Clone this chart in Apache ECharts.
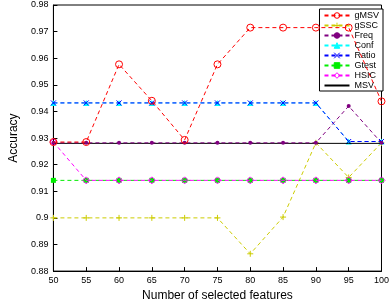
<!DOCTYPE html>
<html>
<head>
<meta charset="utf-8">
<script src="https://cdn.jsdelivr.net/npm/echarts@6/dist/echarts.min.js"></script>
<style>
  html, body { margin: 0; padding: 0; background: #fff; }
  #chart { width: 392px; height: 307px; }
</style>
</head>
<body>
<div id="chart"></div>
<script>
// data
const features = [50, 55, 60, 65, 70, 75, 80, 85, 90, 95, 100];
const gMSV  = [0.9285, 0.9285, 0.9577, 0.9440, 0.9293, 0.9577, 0.9715, 0.9715, 0.9715, 0.9715, 0.9438];
const gSSC  = [0.9000, 0.9000, 0.9000, 0.9000, 0.9000, 0.9000, 0.8865, 0.9003, 0.9282, 0.9152, 0.9282];
const freq  = [0.9282, 0.9282, 0.9282, 0.9282, 0.9282, 0.9282, 0.9282, 0.9282, 0.9282, 0.9420, 0.9282];
const conf  = [0.9432, 0.9432, 0.9432, 0.9432, 0.9432, 0.9432, 0.9432, 0.9432, 0.9432, 0.9287, 0.9287];
const ratio = [0.9432, 0.9432, 0.9432, 0.9432, 0.9432, 0.9432, 0.9432, 0.9432, 0.9432, 0.9287, 0.9287];
const gtest = [0.9141, 0.9141, 0.9141, 0.9141, 0.9141, 0.9141, 0.9141, 0.9141, 0.9141, 0.9141, 0.9141];
const hsic  = [0.9285, 0.9141, 0.9141, 0.9141, 0.9141, 0.9141, 0.9141, 0.9141, 0.9141, 0.9141, 0.9141];
const msv   = [0.9280, 0.9280, 0.9280, 0.9280, 0.9280, 0.9280, 0.9280, 0.9280, 0.9280, 0.9280, 0.9280];
const names = ['gMSV', 'gSSC', 'Freq', 'Conf', 'Ratio', 'Gtest', 'HSIC', 'MSV'];

const plusPath = 'path://M5,0L5,10M0,5L10,5';
const crossPath = 'path://M0,0L10,10M0,10L10,0';

function mkSeries(name, values, color, symbol, opts = {}) {
  // hollow glyphs (o, +, x, diamond): transparent fill, thin coloured stroke
  const itemStyle = opts.stroke
    ? { color: 'rgba(0,0,0,0)', borderColor: color, borderWidth: 1 }
    : { color: color, borderColor: color, borderWidth: 0 };
  return {
    name: name,
    type: 'line',
    data: features.map((f, i) => [f, values[i]]),
    symbol: symbol,
    symbolSize: opts.size || 6,
    lineStyle: { color: color, width: 1, type: opts.solid ? 'solid' : [4, 3] },
    itemStyle: itemStyle,
    emphasis: { disabled: true },
    animation: false,
    z: opts.z || 2
  };
}

const chart = echarts.init(document.getElementById('chart'), null, { renderer: 'canvas' });

chart.setOption({
  animation: false,
  grid: { left: 39, right: 8, top: 5, bottom: 30, show: true, borderColor: '#000', borderWidth: 1 },
  legend: {
    orient: 'vertical',
    right: 9,
    top: 9,
    itemWidth: 25,
    itemHeight: 7,
    itemGap: 1,
    padding: [2, 4, 1, 4],
    borderColor: '#000',
    borderWidth: 1,
    backgroundColor: '#fff',
    itemStyle: { borderWidth: 1 },
    textStyle: { fontSize: 9, color: '#000', fontFamily: 'Liberation Sans' },
    data: names.map(n => n === 'MSV' ? { name: n, itemStyle: { opacity: 0 } } : n)
  },
  xAxis: {
    type: 'value',
    min: 50,
    max: 100,
    interval: 5,
    name: 'Number of selected features',
    nameLocation: 'middle',
    nameGap: 17,
    nameTextStyle: { fontSize: 12, color: '#000', fontFamily: 'Liberation Sans' },
    axisLine: { lineStyle: { color: '#000' } },
    axisTick: { inside: true, length: 4, lineStyle: { color: '#000' } },
    axisLabel: { fontSize: 9, color: '#000', margin: 5, fontFamily: 'Liberation Sans' },
    splitLine: { show: false }
  },
  yAxis: {
    type: 'value',
    min: 0.88,
    max: 0.98,
    interval: 0.01,
    name: 'Accuracy',
    nameLocation: 'middle',
    nameGap: 29,
    nameTextStyle: { fontSize: 12, color: '#000', fontFamily: 'Liberation Sans' },
    axisLine: { lineStyle: { color: '#000' } },
    axisTick: { inside: true, length: 4, lineStyle: { color: '#000' } },
    axisLabel: { fontSize: 9, color: '#000', margin: 5, fontFamily: 'Liberation Sans' },
    splitLine: { show: false }
  },
  series: [
    mkSeries('gMSV', gMSV, '#ff0000', 'circle', { stroke: true, size: 7, z: 9 }),
    mkSeries('gSSC', gSSC, '#cccc00', plusPath, { stroke: true, size: 6 }),
    mkSeries('Freq', freq, '#800080', 'circle', { size: 4, z: 8 }),
    mkSeries('Conf', conf, '#00ffff', 'triangle', { size: 6 }),
    mkSeries('Ratio', ratio, '#0000ff', crossPath, { stroke: true, size: 5, z: 3 }),
    mkSeries('Gtest', gtest, '#00ee00', 'rect', { size: 5 }),
    mkSeries('HSIC', hsic, '#ff00ff', 'diamond', { stroke: true, size: 7, z: 4 }),
    mkSeries('MSV', msv, '#000000', 'none', { solid: true, z: 5 })
  ]
});
</script>
</body>
</html>
